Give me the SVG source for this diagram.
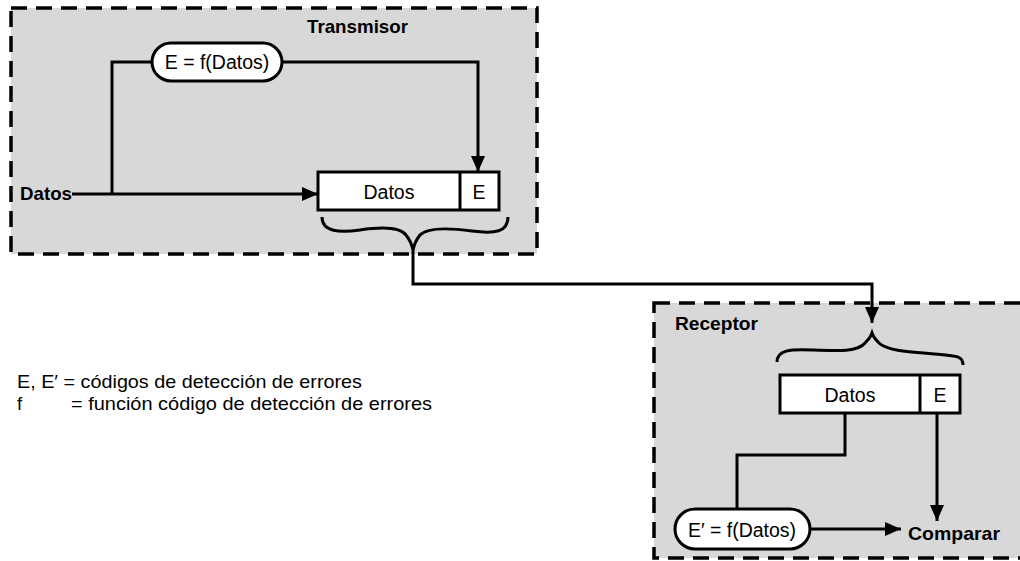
<svg xmlns="http://www.w3.org/2000/svg" width="1020" height="561" viewBox="0 0 1020 561">
<defs>
<style>
.zone{fill:#d8d8d8;stroke:#000;stroke-width:3.5;stroke-dasharray:16 9}
.ln{fill:none;stroke:#000;stroke-width:3}
.box{fill:#fff;stroke:#000;stroke-width:3}
.t{font-family:"Liberation Sans",Arial,sans-serif;font-size:19.5px;fill:#000}
.b{font-family:"Liberation Sans",Arial,sans-serif;font-size:18.5px;font-weight:bold;fill:#000}
.lg{font-family:"Liberation Sans",Arial,sans-serif;font-size:18.5px;fill:#000}
</style>
<marker id="ah" viewBox="0 0 16 14" refX="16" refY="7" markerWidth="16" markerHeight="14" markerUnits="userSpaceOnUse" orient="auto">
<path d="M0,0 L16,7 L0,14 Z" fill="#000"/>
</marker>
</defs>
<rect width="1020" height="561" fill="#fff"/>

<g id="transmisor">
<rect class="zone" x="11" y="8" width="526" height="246"/>
<text class="b" x="307" y="33" textLength="101" lengthAdjust="spacingAndGlyphs">Transmisor</text>
</g>
<g id="receptor">
<rect class="zone" x="654" y="303" width="400" height="255"/>
<text class="b" x="675" y="330" textLength="83" lengthAdjust="spacingAndGlyphs">Receptor</text>
</g>

<g id="connectors">
<path class="ln" d="M72,194 H318" marker-end="url(#ah)"/>
<path class="ln" d="M112,194 V62 H152"/>
<path class="ln" d="M282,62 H478 V172" marker-end="url(#ah)"/>
<path class="ln" d="M322,217 C322,232 340,233 360,230 C380,227 400,227 406,235 C410,240 412,245 413,250 C414,245 416,240 420,235 C428,227 450,228 472,231 C495,234 508,232 508,217"/>
<path class="ln" d="M413,250 V284 H872 V323" marker-end="url(#ah)"/>
<path class="ln" d="M777,362 C777,350 790,349 812,350 C838,351 858,352 865,343 C869,339 871,336 872,333 C873,336 875,339 879,343 C887,351 912,352 935,354 C958,356 963,356 963,365"/>
<path class="ln" d="M845,413 V455 H737 V508"/>
<path class="ln" d="M937,413 V521" marker-end="url(#ah)"/>
<path class="ln" d="M810,529 H901" marker-end="url(#ah)"/>
</g>

<g id="label-datos">
<text class="b" x="20" y="200" textLength="52" lengthAdjust="spacingAndGlyphs">Datos</text>
</g>

<g id="calc-tx">
<rect class="box" x="152" y="43" width="130" height="38" rx="19"/>
<text class="t" x="217" y="69" text-anchor="middle">E = f(Datos)</text>
</g>

<g id="frame-tx">
<rect class="box" x="318" y="172" width="181" height="38"/>
<line class="ln" x1="460" y1="172" x2="460" y2="210"/>
<text class="t" x="389" y="199" text-anchor="middle">Datos</text>
<text class="t" x="479" y="199" text-anchor="middle">E</text>
</g>

<g id="frame-rx">
<rect class="box" x="780" y="375" width="180" height="38"/>
<line class="ln" x1="920" y1="375" x2="920" y2="413"/>
<text class="t" x="850" y="402" text-anchor="middle">Datos</text>
<text class="t" x="940" y="402" text-anchor="middle">E</text>
</g>

<g id="calc-rx">
<rect class="box" x="675" y="509" width="135" height="40" rx="20"/>
<text class="t" x="742" y="537" text-anchor="middle">E′ = f(Datos)</text>
</g>

<g id="comparar">
<text class="b" x="908" y="540" textLength="92" lengthAdjust="spacingAndGlyphs">Comparar</text>
</g>

<g id="legend">
<text class="lg" x="17" y="388" textLength="345" lengthAdjust="spacingAndGlyphs">E, E′ = códigos de detección de errores</text>
<text class="lg" x="17" y="410">f</text>
<text class="lg" x="71" y="410" textLength="361" lengthAdjust="spacingAndGlyphs">= función código de detección de errores</text>
</g>
</svg>
